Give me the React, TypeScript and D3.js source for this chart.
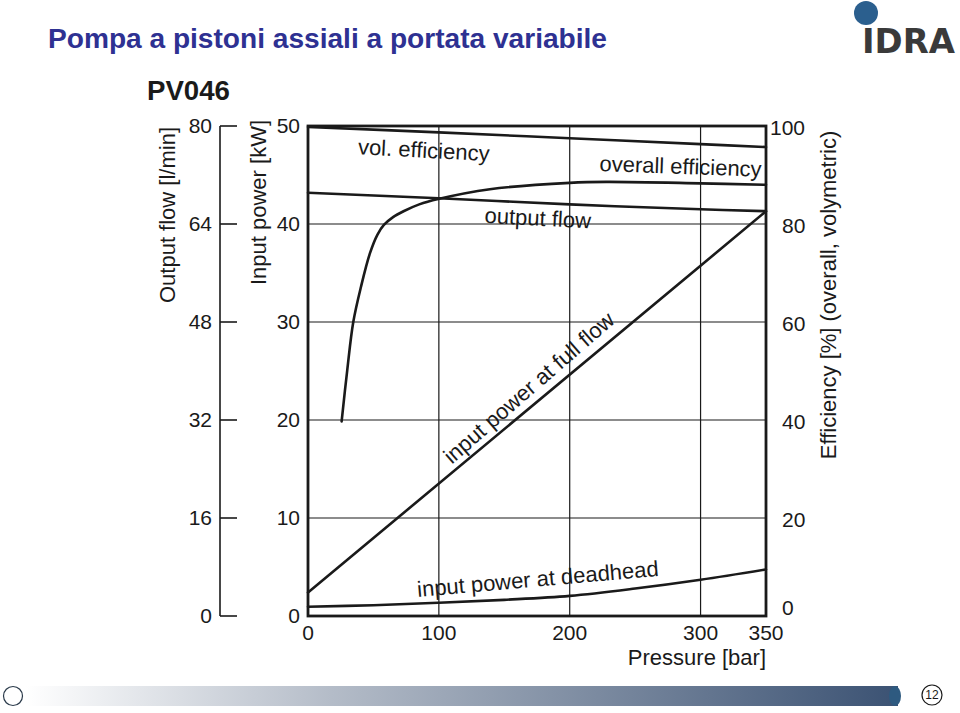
import React from "react";
import * as d3 from "d3";

// ---- data ----
const pressureTicks = [0, 100, 200, 300, 350];
const powerTicks = [0, 10, 20, 30, 40, 50];
const flowTicks = [0, 16, 32, 48, 64, 80];
const effTicks = [0, 20, 40, 60, 80, 100];

const volEffP = [0, 100, 200, 300, 350];
const volEffV = [99.8, 98.7, 97.5, 96.3, 95.7];

const overallEffP = [25.7, 30, 34.6, 40.5, 47.3, 53, 58, 65, 73, 85, 99.5, 139, 200, 228, 300, 350];
const overallEffV = [39.7, 50.2, 60, 67.2, 74, 77.8, 79.8, 81.4, 82.6, 84, 85.1, 87.1, 88.4, 88.6, 88.3, 88.0];

const outputFlowP = [0, 100, 200, 300, 350];
const outputFlowV = [69.1, 68.2, 67.2, 66.4, 66.1];

const fullFlowP = [0, 350];
const fullFlowV = [2.4, 41.3];

const deadheadP = [0, 50, 100, 150, 200, 250, 300, 350];
const deadheadV = [0.95, 1.1, 1.35, 1.65, 2.05, 2.8, 3.7, 4.75];

const W = 960;
const H = 713;
const FONT = "'Liberation Sans', Arial, Helvetica, sans-serif";
const INK = "#1a1a1a";

export default function App() {
  const x = d3.scaleLinear().domain([0, 350]).range([308, 766]);
  const yKw = d3.scaleLinear().domain([0, 50]).range([616, 126]);
  const yEff = d3.scaleLinear().domain([0, 100]).range([616, 126]);
  const yFlow = d3.scaleLinear().domain([0, 80]).range([616, 126]);

  const mk = (ys: d3.ScaleLinear<number, number>, P: number[], V: number[]) =>
    d3
      .line<number>()
      .x((_, i) => x(P[i]))
      .y((v) => ys(v))
      .curve(d3.curveCatmullRom.alpha(0.5))(V) || "";

  const curves = [
    mk(yEff, volEffP, volEffV),
    mk(yEff, overallEffP, overallEffV),
    mk(yFlow, outputFlowP, outputFlowV),
    mk(yKw, fullFlowP, fullFlowV),
    mk(yKw, deadheadP, deadheadV),
  ];

  const annotations = [
    { text: "vol. efficiency", x: x(88.5), y: yEff(95.1), a: 3 },
    { text: "overall efficiency", x: x(284.7), y: yEff(91.8), a: 2 },
    { text: "output flow", x: x(175.6), y: yFlow(65), a: 3 },
    { text: "input power at full flow", x: x(168.7), y: yKw(23.3), a: -41 },
    { text: "input power at deadhead", x: x(175.6), y: yKw(3.8), a: -5 },
  ];

  const x0 = x(0), x1 = x(350), yTop = yKw(50), yBot = yKw(0);

  return (
    <svg
      width={W}
      height={H}
      style={{ position: "absolute", left: 0, top: 0, background: "#fff" }}
      fontFamily={FONT}
    >
      <defs>
        <linearGradient id="barGrad" x1="0" x2="1" y1="0" y2="0">
          <stop offset="0" stopColor="#ffffff" />
          <stop offset="0.35" stopColor="#b4bcc8" />
          <stop offset="1" stopColor="#3b5273" />
        </linearGradient>
      </defs>

      {/* Title */}
      <text x={48} y={48} fontSize={27} fontWeight="bold" fill="#2e3192" textLength={559} lengthAdjust="spacingAndGlyphs">
        Pompa a pistoni assiali a portata variabile
      </text>

      {/* Logo */}
      <circle cx={866} cy={13} r={12} fill="#2b5f8e" />
      <text
        x={862}
        y={53}
        fontSize={34}
        fontWeight="bold"
        fill="#3a3a3a"
        textLength={93}
        lengthAdjust="spacingAndGlyphs"
        fontFamily="'DejaVu Sans', sans-serif"
      >
        IDRA
      </text>

      {/* PV046 */}
      <text x={147} y={100} fontSize={27} fontWeight="bold" fill={INK} textLength={83} lengthAdjust="spacingAndGlyphs">
        PV046
      </text>

      {/* grid */}
      {pressureTicks.slice(1, -1).map((p) => (
        <line key={"gx" + p} x1={x(p)} x2={x(p)} y1={yTop} y2={yBot} stroke={INK} strokeWidth={1.2} />
      ))}
      {powerTicks.slice(1, -1).map((p) => (
        <line key={"gy" + p} x1={x0} x2={x1} y1={yKw(p)} y2={yKw(p)} stroke={INK} strokeWidth={1.2} />
      ))}

      {/* curves */}
      {curves.map((d, i) => (
        <path key={"c" + i} d={d} fill="none" stroke={INK} strokeWidth={2.6} strokeLinecap="round" />
      ))}

      {/* frame */}
      <rect x={x0} y={yTop} width={x1 - x0} height={yBot - yTop} fill="none" stroke={INK} strokeWidth={2.8} />

      {/* pressure ticks */}
      {pressureTicks.map((p) => (
        <text key={"tx" + p} x={x(p)} y={640} fontSize={21} textAnchor="middle" fill={INK}>
          {p}
        </text>
      ))}
      <text x={766} y={665} fontSize={22} textAnchor="end" fill={INK}>
        Pressure [bar]
      </text>

      {/* kW axis labels */}
      {powerTicks.map((p) => (
        <text key={"tk" + p} x={300} y={yKw(p)} dy="0.35em" fontSize={21} textAnchor="end" fill={INK}>
          {p}
        </text>
      ))}
      <text
        transform={`translate(258,${(yTop + 293) / 2 - 7}) rotate(-90)`}
        fontSize={22}
        textAnchor="middle"
        dy="0.35em"
        fill={INK}
      >
        Input power [kW]
      </text>

      {/* flow axis */}
      <line x1={220} x2={220} y1={yFlow(80)} y2={yFlow(0)} stroke={INK} strokeWidth={1.6} />
      {flowTicks.map((f) => (
        <g key={"tf" + f}>
          <line x1={220} x2={237} y1={yFlow(f)} y2={yFlow(f)} stroke={INK} strokeWidth={1.6} />
          <text x={212} y={yFlow(f)} dy="0.35em" fontSize={21} textAnchor="end" fill={INK}>
            {f}
          </text>
        </g>
      ))}
      <text
        transform="translate(167,215) rotate(-90)"
        fontSize={22}
        textAnchor="middle"
        dy="0.35em"
        fill={INK}
      >
        Output flow [l/min]
      </text>

      {/* efficiency axis */}
      {effTicks.map((e) => (
        <text
          key={"te" + e}
          x={e === 100 ? 770 : 782}
          y={yEff(e) + (e === 0 ? -8 : 2)}
          dy="0.35em"
          fontSize={21}
          fill={INK}
        >
          {e}
        </text>
      ))}
      <text
        transform="translate(828,295) rotate(-90)"
        fontSize={22}
        textAnchor="middle"
        dy="0.35em"
        fill={INK}
      >
        Efficiency [%] (overall, volymetric)
      </text>

      {/* annotations */}
      {annotations.map((a) => (
        <text
          key={a.text}
          transform={`translate(${a.x},${a.y}) rotate(${a.a})`}
          fontSize={22}
          textAnchor="middle"
          dy="0.35em"
          fill={INK}
        >
          {a.text}
        </text>
      ))}

      {/* footer */}
      <circle cx={13} cy={696} r={9.5} fill="#fff" stroke="#2a3a4a" strokeWidth={1.2} />
      <rect x={26} y={686} width={872} height={20} rx={0} fill="url(#barGrad)" />
      <ellipse cx={895} cy={696} rx={6} ry={10} fill="#2e5a80" />
      <circle cx={932} cy={695} r={10} fill="#fff" stroke="#1a1a1a" strokeWidth={1.2} />
      <text x={932} y={695} dy="0.35em" fontSize={12} textAnchor="middle" fill="#1a1a1a">
        12
      </text>
    </svg>
  );
}
